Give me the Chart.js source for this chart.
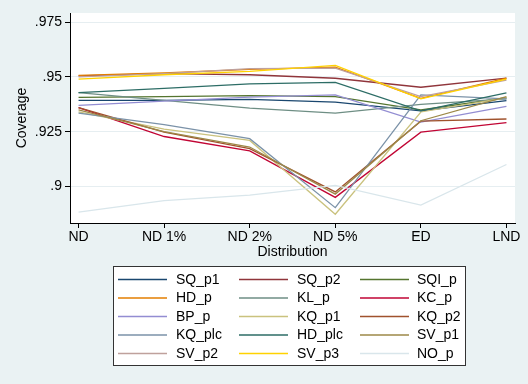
<!DOCTYPE html>
<html>
<head>
<meta charset="utf-8">
<script src="https://cdn.jsdelivr.net/npm/chart.js@4/dist/chart.umd.min.js"></script>
<style>
html,body{margin:0;padding:0;background:#eaf2f3;}
canvas{display:block;}
</style>
</head>
<body>
<canvas id="c" width="528" height="384"></canvas>
<script>
const categories = ['ND','ND 1%','ND 2%','ND 5%','ED','LND'];
const yTicks = [0.9, 0.925, 0.95, 0.975];
const yTickLabels = ['.9', '.925', '.95', '.975'];

const SQ_p1  = [0.9393, 0.9393, 0.9398, 0.9385, 0.9345, 0.9392];
const SQ_p2  = [0.9505, 0.9515, 0.9510, 0.9494, 0.9453, 0.9495];
const SQI_p  = [0.9407, 0.9410, 0.9415, 0.9410, 0.9350, 0.9405];
const HD_p   = [0.9507, 0.9518, 0.9535, 0.9545, 0.9402, 0.9495];
const KL_p   = [0.9428, 0.9393, 0.9358, 0.9335, 0.9375, 0.9400];
const KC_p   = [0.9360, 0.9228, 0.9162, 0.8950, 0.9248, 0.9291];
const BP_p   = [0.9370, 0.9390, 0.9408, 0.9418, 0.9294, 0.9366];
const KQ_p1  = [0.9340, 0.9262, 0.9210, 0.8873, 0.9340, 0.9405];
const KQ_p2  = [0.9360, 0.9248, 0.9173, 0.8975, 0.9298, 0.9308];
const KQ_plc = [0.9335, 0.9282, 0.9218, 0.8903, 0.9418, 0.9400];
const HD_plc = [0.9428, 0.9448, 0.9468, 0.9475, 0.9345, 0.9427];
const SV_p1  = [0.9350, 0.9250, 0.9180, 0.8965, 0.9300, 0.9410];
const SV_p2  = [0.9500, 0.9515, 0.9538, 0.9540, 0.9410, 0.9485];
const SV_p3  = [0.9490, 0.9510, 0.9525, 0.9553, 0.9400, 0.9490];
const NO_p   = [0.8883, 0.8935, 0.8960, 0.9005, 0.8915, 0.9100];

const seriesNames = ['SQ_p1','SQ_p2','SQI_p','HD_p','KL_p','KC_p','BP_p','KQ_p1','KQ_p2','KQ_plc','HD_plc','SV_p1','SV_p2','SV_p3','NO_p'];
const seriesValues = [SQ_p1,SQ_p2,SQI_p,HD_p,KL_p,KC_p,BP_p,KQ_p1,KQ_p2,KQ_plc,HD_plc,SV_p1,SV_p2,SV_p3,NO_p];
const seriesColors = ['#1a476f','#90353b','#55752f','#e37e00','#6e8e84','#c10534','#938dd2','#cac27e','#a0522d','#7b92a8','#2d6d66','#9c8847','#bfa19c','#ffd200','#d9e6eb'];

const FONT = '"Liberation Sans", Arial, sans-serif';
const n = seriesNames.length;

const datasets = seriesNames.map((name, i) => ({
  label: name,
  data: seriesValues[i].map((v, j) => ({x: j, y: v})),
  borderColor: seriesColors[i],
  backgroundColor: seriesColors[i],
  borderWidth: 1.3,
  pointRadius: 0,
  tension: 0,
  fill: false,
  order: n - i
}));

const bgPlugin = {
  id: 'bg',
  beforeDraw(chart) {
    const {ctx, chartArea: a} = chart;
    ctx.save();
    ctx.fillStyle = '#eaf2f3';
    ctx.fillRect(0, 0, chart.width, chart.height);
    ctx.fillStyle = '#ffffff';
    ctx.fillRect(a.left, a.top, a.right - a.left, a.bottom - a.top);
    ctx.restore();
  },
  afterDraw(chart) {
    const ctx = chart.ctx;
    const ds = chart.data.datasets;
    const bx = 113.5, by = 266.5, bw = 352, bh = 99;
    ctx.save();
    ctx.fillStyle = '#ffffff';
    ctx.fillRect(bx, by, bw, bh);
    ctx.strokeStyle = '#333333';
    ctx.lineWidth = 1;
    ctx.strokeRect(bx, by, bw, bh);
    const lineX = [118, 239, 360];
    const textX = [176, 297, 417];
    ctx.font = '14px ' + FONT;
    ctx.textBaseline = 'middle';
    ctx.textAlign = 'left';
    ds.forEach((d, i) => {
      const col = i % 3, row = Math.floor(i / 3);
      const y = 279.5 + row * 18.5;
      ctx.strokeStyle = d.borderColor;
      ctx.lineWidth = 1.3;
      ctx.beginPath();
      ctx.moveTo(lineX[col], y);
      ctx.lineTo(lineX[col] + 49, y);
      ctx.stroke();
      ctx.fillStyle = '#000000';
      ctx.fillText(d.label, textX[col], y + 0.5);
    });
    ctx.restore();
  }
};

new Chart(document.getElementById('c'), {
  type: 'line',
  data: {datasets},
  plugins: [bgPlugin],
  options: {
    responsive: false,
    animation: false,
    devicePixelRatio: 1,
    layout: {padding: {left: 0, right: 13, top: 13, bottom: 123}},
    plugins: {legend: {display: false}, tooltip: {enabled: false}},
    scales: {
      x: {
        type: 'linear',
        min: -0.1,
        max: 5.1,
        afterBuildTicks(scale) { scale.ticks = categories.map((c, i) => ({value: i})); },
        afterFit(scale) { scale.height = 38; },
        ticks: {
          callback: (v) => categories[v],
          color: '#000',
          font: {family: FONT, size: 14},
          padding: 1,
          maxRotation: 0,
          autoSkip: false
        },
        grid: {drawOnChartArea: false, drawTicks: true, tickLength: 5, tickColor: '#000', color: '#000'},
        border: {display: true, color: '#000', width: 1},
        title: {display: true, text: 'Distribution', color: '#000', font: {family: FONT, size: 14}, padding: {top: 0, bottom: 0}}
      },
      y: {
        min: 0.8833,
        max: 0.9792,
        afterBuildTicks(scale) { scale.ticks = yTicks.map(v => ({value: v})); },
        afterFit(scale) { scale.width = 70; },
        ticks: {
          callback: (v) => yTickLabels[yTicks.indexOf(v)],
          color: '#000',
          font: {family: FONT, size: 14},
          padding: 3
        },
        grid: {drawOnChartArea: true, drawTicks: true, tickLength: 5, tickColor: '#000', color: '#e6eef1', lineWidth: 1},
        border: {display: true, color: '#000', width: 1},
        title: {display: true, text: 'Coverage', color: '#000', font: {family: FONT, size: 14}, padding: {top: 14, bottom: 0}}
      }
    }
  }
});
</script>
</body>
</html>
